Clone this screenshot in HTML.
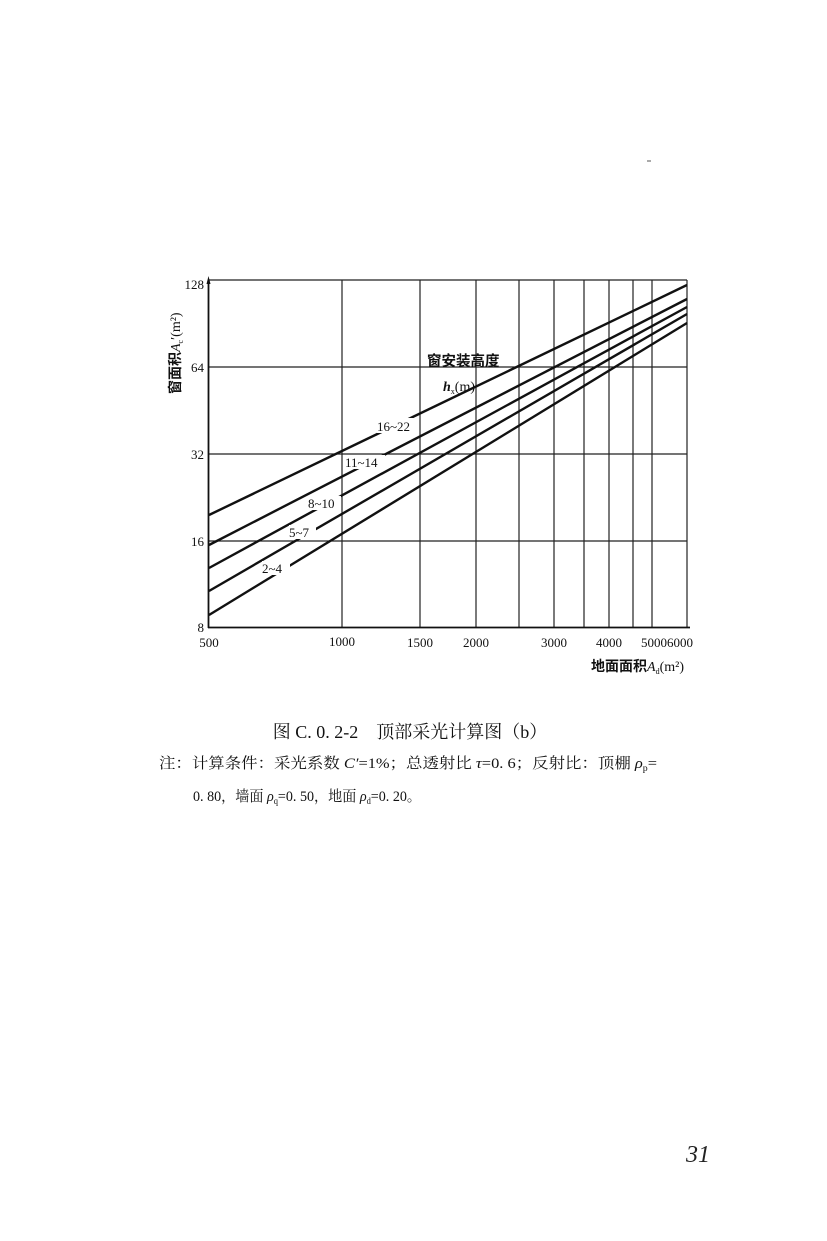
<!DOCTYPE html>
<html><head><meta charset="utf-8"><style>
html,body{margin:0;padding:0;background:#fff}
svg{display:block}
</style></head><body>
<svg width="827" height="1241" viewBox="0 0 827 1241" xmlns="http://www.w3.org/2000/svg">
<rect width="827" height="1241" fill="#fff"/>
<g stroke="#222" stroke-width="1.2" fill="none">
<line x1="209" y1="280" x2="687" y2="280"/>
<line x1="209" y1="367" x2="687" y2="367"/>
<line x1="209" y1="454" x2="687" y2="454"/>
<line x1="209" y1="541" x2="687" y2="541"/>
<line x1="342" y1="280" x2="342" y2="627"/>
<line x1="420" y1="280" x2="420" y2="627"/>
<line x1="476" y1="280" x2="476" y2="627"/>
<line x1="519" y1="280" x2="519" y2="627"/>
<line x1="554" y1="280" x2="554" y2="627"/>
<line x1="584" y1="280" x2="584" y2="627"/>
<line x1="609" y1="280" x2="609" y2="627"/>
<line x1="633" y1="280" x2="633" y2="627"/>
<line x1="652" y1="280" x2="652" y2="627"/>
<line x1="687" y1="280" x2="687" y2="627"/>
</g>
<g stroke="#111" stroke-width="1.8">
<line x1="208.5" y1="280" x2="208.5" y2="628"/>
<line x1="208" y1="627.5" x2="690" y2="627.5"/>
</g>
<polygon points="208.5,276 206.5,284 210.5,284" fill="#111"/>
<g stroke="#111" stroke-width="2.4" fill="none">
<line x1="209" y1="515" x2="687" y2="285"/>
<line x1="209" y1="545" x2="687" y2="299"/>
<line x1="209" y1="568" x2="687" y2="307"/>
<line x1="209" y1="591" x2="687" y2="314"/>
<line x1="209" y1="615" x2="687" y2="323"/>
</g>
<g font-family="Liberation Serif, serif" font-size="13" fill="#111">
<rect x="377" y="418" width="40" height="15" fill="#fff"/>
<text x="377" y="431">16~22</text>
<rect x="345" y="455" width="40" height="14" fill="#fff"/>
<text x="345" y="467">11~14</text>
<rect x="308" y="496" width="33" height="14" fill="#fff"/>
<text x="308" y="508">8~10</text>
<rect x="289" y="525" width="27" height="14" fill="#fff"/>
<text x="289" y="537">5~7</text>
<rect x="262" y="561" width="28" height="14" fill="#fff"/>
<text x="262" y="573">2~4</text>
</g>
<g font-family="Liberation Serif, serif" font-size="13" fill="#111" text-anchor="end">
<text x="204" y="289">128</text>
<text x="204" y="372">64</text>
<text x="204" y="459">32</text>
<text x="204" y="546">16</text>
<text x="204" y="632">8</text>
</g>
<g font-family="Liberation Serif, serif" font-size="13" fill="#111" text-anchor="middle">
<text x="209" y="647">500</text>
<text x="342" y="646">1000</text>
<text x="420" y="647">1500</text>
<text x="476" y="647">2000</text>
<text x="554" y="647">3000</text>
<text x="609" y="647">4000</text>
<text x="667" y="647">50006000</text>
</g>
<text x="684" y="671" text-anchor="end" font-family="Liberation Serif, 'Noto Sans CJK SC', sans-serif" font-size="14" font-weight="bold" fill="#111">地面面积<tspan font-style="italic" font-weight="normal">A</tspan><tspan font-size="8" font-weight="normal" dy="3">d</tspan><tspan font-weight="normal" dy="-3">(m²)</tspan></text>
<text transform="translate(180,394) rotate(-90)" font-family="Liberation Serif, 'Noto Sans CJK SC', sans-serif" font-size="14" font-weight="bold" fill="#111">窗面积<tspan font-style="italic" font-weight="normal">A</tspan><tspan font-size="8" font-weight="normal" dy="3">c</tspan><tspan font-weight="normal" dy="-3">′(m²)</tspan></text>
<text x="427" y="366" font-family="'Noto Sans CJK SC', sans-serif" font-size="14.5" font-weight="bold" fill="#111">窗安装高度</text>
<text x="443" y="391" font-family="Liberation Serif, serif" font-size="14" fill="#111"><tspan font-style="italic" font-weight="bold">h</tspan><tspan font-size="8" dy="3">x</tspan><tspan dy="-3">(m)</tspan></text>
<text x="410" y="738" text-anchor="middle" font-family="Liberation Serif, 'Noto Serif CJK SC', serif" font-size="18" fill="#111">图 C. 0. 2-2　顶部采光计算图（b）</text>
<text x="159" y="768" font-family="Liberation Serif, 'Noto Serif CJK SC', serif" font-size="15" fill="#111" textLength="498" lengthAdjust="spacingAndGlyphs">注：计算条件：采光系数 <tspan font-style="italic">C′</tspan>=1%；总透射比 <tspan font-style="italic">τ</tspan>=0. 6；反射比：顶棚 <tspan font-style="italic">ρ</tspan><tspan font-size="9" dy="3">p</tspan><tspan dy="-3">=</tspan></text>
<text x="193" y="801" font-family="Liberation Serif, 'Noto Serif CJK SC', serif" font-size="15" fill="#111" textLength="228" lengthAdjust="spacingAndGlyphs">0. 80，墙面 <tspan font-style="italic">ρ</tspan><tspan font-size="9" dy="3">q</tspan><tspan dy="-3">=0. 50，地面 </tspan><tspan font-style="italic">ρ</tspan><tspan font-size="9" dy="3">d</tspan><tspan dy="-3">=0. 20。</tspan></text>
<text x="710" y="1162" text-anchor="end" font-family="Liberation Serif, serif" font-size="24" font-style="italic" fill="#222">31</text>
<line x1="647" y1="161" x2="651" y2="161" stroke="#555" stroke-width="1"/>
</svg>
</body></html>
